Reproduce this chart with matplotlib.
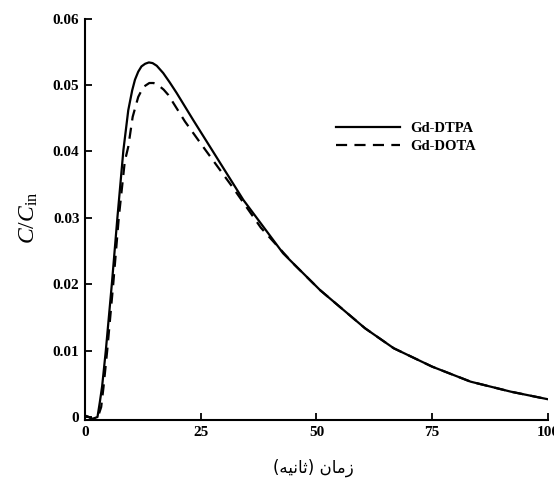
import matplotlib
matplotlib.use('Agg')
import matplotlib.pyplot as plt

# Dane
czas_dtpa = [0, 0.8, 1.6, 2.7, 3.2, 3.7, 4.5, 5.8, 7.0, 8.3, 9.35, 10.2, 10.8, 11.5, 12.2, 13.0,
             13.8, 14.6, 15.5, 16.9, 18.3, 19.8, 23.4, 27, 34.2, 42.8, 50.8, 60.5, 66.7,
             75, 83.3, 92, 100]
stez_dtpa = [0.0002, 0.0, -0.0003, 0.0, 0.0022, 0.0046, 0.0100, 0.0200, 0.0300, 0.0402,
             0.0462, 0.0492, 0.0508, 0.0520, 0.0528, 0.0532, 0.0534, 0.0533, 0.0529,
             0.0518, 0.0504, 0.0488, 0.0447, 0.0407, 0.0327, 0.02465, 0.0191, 0.01336,
             0.01035, 0.00758, 0.00532, 0.00381, 0.00267]

czas_dota = [0, 0.8, 1.6, 2.7, 3.5, 4.0, 4.8, 6.1, 7.3, 8.6, 9.35, 10.3, 11.5, 12.6, 13.9,
             14.8, 15.8, 17.0, 18, 21.6, 25.2, 32, 38, 45, 50.8, 60.5, 66.7, 75, 83.3, 92, 100]
stez_dota = [0.0002, 0.0, -0.0003, -0.0002, 0.0015, 0.0045, 0.0100, 0.0200, 0.0300, 0.0385,
             0.0407, 0.0452, 0.0482, 0.0497, 0.0503, 0.0503, 0.0500, 0.0493, 0.0485,
             0.0445, 0.0410, 0.0345, 0.0285, 0.0231, 0.0191, 0.01336, 0.01035, 0.00758,
             0.00532, 0.00381, 0.00267]

etykiety = ['Gd-DTPA', 'Gd-DOTA']
x_ticks = [0, 25, 50, 75, 100]
y_ticks = [0, 0.01, 0.02, 0.03, 0.04, 0.05, 0.06]
y_tick_labels = ['0', '0.01', '0.02', '0.03', '0.04', '0.05', '0.06']

# "زمان (ثانیه)" w postaci prezentacyjnej, kolejnosc wizualna
os_x_tytul = '(\uFEEA\uFEF4\uFEE7\uFE8E\uFE9B) \uFEE5\uFE8E\uFEE3\uFEAF'

plt.rcParams['font.family'] = ['Liberation Serif', 'DejaVu Serif']
plt.rcParams['mathtext.fontset'] = 'custom'
plt.rcParams['mathtext.it'] = 'Liberation Serif:italic'
plt.rcParams['mathtext.rm'] = 'Liberation Serif'

fig = plt.figure(figsize=(5.54, 4.82), dpi=100)
ax = fig.add_axes([0.1534, 0.128, 0.8356, 0.8334])

ax.plot(czas_dtpa, stez_dtpa, color='black', lw=1.6, label=etykiety[0])
ax.plot(czas_dota, stez_dota, color='black', lw=1.6, linestyle=(0, (5, 3.3)), label=etykiety[1])

ax.set_xlim(0, 100)
ax.set_ylim(-0.0005, 0.06)
ax.set_xticks(x_ticks)
ax.set_xticklabels([str(v) for v in x_ticks], fontweight='bold', fontsize=11)
ax.set_yticks(y_ticks)
ax.set_yticklabels(y_tick_labels, fontweight='bold', fontsize=11)
ax.tick_params(direction='in', length=5, width=1.3, pad=4)

ax.spines['top'].set_visible(False)
ax.spines['right'].set_visible(False)
ax.spines['left'].set_linewidth(1.5)
ax.spines['bottom'].set_linewidth(1.5)

fig.text(0.052, 0.548, r'$C/C_{\mathrm{in}}$', rotation=90, fontsize=17,
         ha='center', va='center')
fig.text(0.565, 0.03, os_x_tytul, family='DejaVu Sans', fontsize=12,
         ha='center', va='center')

leg = ax.legend(loc='upper left', bbox_to_anchor=(0.542, 0.744), frameon=False,
                prop={'weight': 'bold', 'size': 10.5}, handlelength=4.4,
                handletextpad=0.7, borderpad=0, borderaxespad=0, labelspacing=0.35)

fig.savefig('out.png', dpi=100)
